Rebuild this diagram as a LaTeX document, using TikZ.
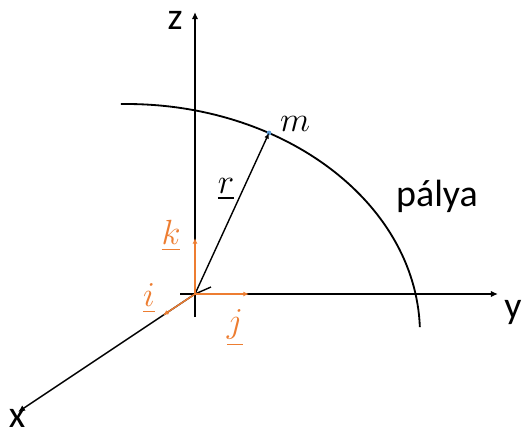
\documentclass[tikz,border=0pt]{standalone}
\usepackage{amsmath}
\usepackage{fontspec}
\setmainfont{Carlito}
\usetikzlibrary{arrows.meta}

\definecolor{vecorange}{HTML}{ED7D31}
\definecolor{dotblue}{HTML}{5B9BD5}

\tikzset{
	axis/.style={line width=1pt, -{Latex[length=5pt,width=4.5pt]}},
	unitvec/.style={line width=1pt, vecorange, -{Latex[length=4pt,width=3.5pt]}},
	biglabel/.style={font=\fontsize{27}{30}\selectfont},
	veclabel/.style={text=vecorange, font=\fontsize{27}{29}\selectfont}
}

\begin{document}
\begin{tikzpicture}

	\useasboundingbox (-4.875,-3.55) rectangle (8.175,7.35);

	% Axes
	\coordinate (O) at (0,0);
	\coordinate (zlow) at (0,-0.575);
	\coordinate (ztip) at (0,7.05);
	\coordinate (ylow) at (-0.375,0);
	\coordinate (ytip) at (7.575,0);
	\coordinate (xtip) at (-4.425,-2.95);

	\draw[axis] (zlow) -- (ztip);
	\draw[axis] (ylow) -- (ytip);
	\draw[axis] (O) -- (xtip);

	\node[biglabel] (zlab) at (-0.5,6.85) {z};
	\node[biglabel] (ylab) at (7.95,-0.45) {y};
	\node[biglabel] (xlab) at (-4.45,-3.12) {x};

	% Orbit
	\draw[line width=1.3pt] (-1.725,-1) ++(91:7.35 and 5.75)
		arc[start angle=91, end angle=1.7, x radius=7.35, y radius=5.75];
	\node[biglabel] (orbit) at (6.05,2.45) {pálya};

	% Mass point and position vector
	\fill[dotblue] (1.85,4.025) circle (0.06);
	\coordinate (M) at (1.85,4.025);
	\node[veclabel, text=black] (mlab) at (2.5,4.25) {$m$};
	\draw[line width=1pt, -{Latex[length=4pt,width=3.5pt]}] (O) -- (M);
	\draw[line width=1pt] (O) -- (0.4,0.175);
	\node[veclabel, text=black] (rlab) at (0.775,2.62) {$\underline{r}$};

	% Unit vectors
	\coordinate (itip) at (-0.8,-0.533);
	\coordinate (jtip) at (1.35,0);
	\coordinate (ktip) at (0,1.4);
	\draw[unitvec] (O) -- (itip);
	\draw[unitvec] (O) -- (jtip);
	\draw[unitvec] (O) -- (ktip);
	\node[veclabel] (ilab) at (-1.15,-0.12) {$\underline{i}$};
	\node[veclabel] (jlab) at (1.0,-0.85) {$\underline{j}$};
	\node[veclabel] (klab) at (-0.6,1.45) {$\underline{k}$};

\end{tikzpicture}
\end{document}
